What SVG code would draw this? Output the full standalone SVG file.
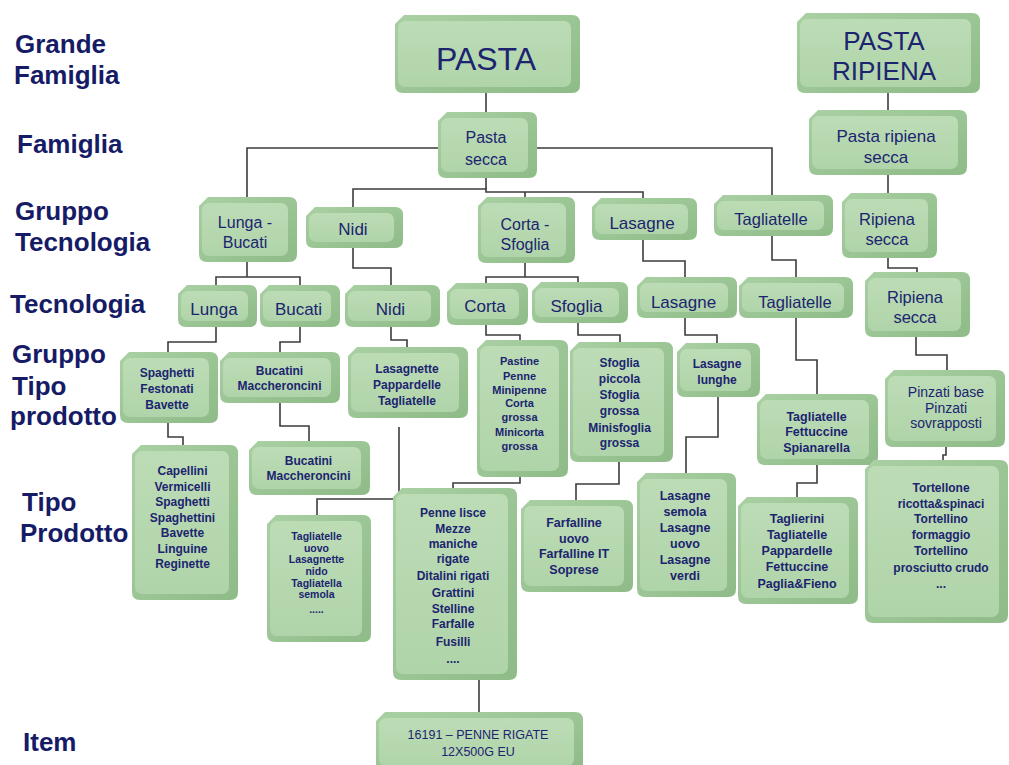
<svg xmlns="http://www.w3.org/2000/svg" width="1009" height="765" viewBox="0 0 1009 765">
  <defs>
    <linearGradient id="rim" x1="0" y1="0" x2="1" y2="1">
      <stop offset="0" stop-color="#a9d0a3"/>
      <stop offset="1" stop-color="#8ebb87"/>
    </linearGradient>
    <linearGradient id="face" x1="0" y1="0" x2="0" y2="1">
      <stop offset="0" stop-color="#bcdcb6"/>
      <stop offset="1" stop-color="#b0d4a9"/>
    </linearGradient>
  </defs>
  <style>
    .rim { fill: url(#rim); }
    .face { fill: url(#face); }
    .lvl { font-family: "Liberation Sans", Arial, sans-serif; font-weight: bold; font-size: 26px; fill: #161b66; }
    .t { font-family: "Liberation Sans", Arial, sans-serif; fill: #1c2470; text-anchor: middle; }
    .b { font-weight: bold; }
    .wire { fill: none; stroke: #3c3c3c; stroke-width: 1.6; }
  </style>
  <rect width="1009" height="765" fill="#ffffff"/>

  <!-- level labels -->
  <g id="levels">
    <text class="lvl" x="15" y="53">Grande</text>
    <text class="lvl" x="14" y="84">Famiglia</text>
    <text class="lvl" x="17" y="153">Famiglia</text>
    <text class="lvl" x="15" y="220">Gruppo</text>
    <text class="lvl" x="15" y="251">Tecnologia</text>
    <text class="lvl" x="10" y="313">Tecnologia</text>
    <text class="lvl" x="12" y="363">Gruppo</text>
    <text class="lvl" x="12" y="395">Tipo</text>
    <text class="lvl" x="10" y="425">prodotto</text>
    <text class="lvl" x="22" y="511">Tipo</text>
    <text class="lvl" x="20" y="542">Prodotto</text>
    <text class="lvl" x="23" y="751">Item</text>
  </g>

  <!-- connectors -->
  <g id="connectors" class="wire">
    <path d="M486,93 V112"/>
    <path d="M888,93 V110"/>
    <path d="M888,175 V193"/>
    <path d="M247,197 V148 H772 V195"/>
    <path d="M486,178 V189"/>
    <path d="M353,207 V189 H486 V192 H643 V198"/>
    <path d="M525,192 V197"/>
    <path d="M247,262 V277"/>
    <path d="M216,285 V277 H300 V285"/>
    <path d="M353,248 V268 H391 V285"/>
    <path d="M525,263 V277"/>
    <path d="M486,283 V277 H578 V282"/>
    <path d="M643,240 V261 H685 V277"/>
    <path d="M772,236 V260 H796 V277"/>
    <path d="M888,258 V268 H917 V272"/>
    <path d="M216,327 V342 H168 V352"/>
    <path d="M300,327 V342 H280 V352"/>
    <path d="M391,327 V340 H407 V347"/>
    <path d="M486,325 V335 H520 V340"/>
    <path d="M578,323 V335 H620 V342"/>
    <path d="M685,318 V335 H717 V343"/>
    <path d="M796,318 V360 H817 V394"/>
    <path d="M916,337 V355 H947 V370"/>
    <path d="M168,423 V437 H183 V445"/>
    <path d="M280,403 V426 H309 V441"/>
    <path d="M399,427 V499 H317 V515"/>
    <path d="M520,477 V483 H453 V488"/>
    <path d="M619,462 V484 H576 V500"/>
    <path d="M718,397 V437 H686 V473"/>
    <path d="M817,465 V483 H797 V497"/>
    <path d="M946,447 V455 H943 V460"/>
    <path d="M479,680 V712"/>
  </g>

  <!-- Grande Famiglia -->
  <g id="pasta" transform="translate(395,15)">
    <path class="rim" d="M0,9 L9,0 H177 Q185,0 185,8 V70 Q185,78 177,78 H8 Q0,78 0,70 Z"/>
    <rect class="face" x="3" y="6" width="173" height="66" rx="7"/>
    <text class="t" x="91" y="55" font-size="32">PASTA</text>
  </g>
  <g id="pasta-ripiena" transform="translate(797,13)">
    <path class="rim" d="M0,9 L9,0 H175 Q183,0 183,8 V72 Q183,80 175,80 H8 Q0,80 0,72 Z"/>
    <rect class="face" x="3" y="6" width="171" height="68" rx="7"/>
    <text class="t" x="87" y="37" font-size="26">PASTA</text>
    <text class="t" x="87" y="67" font-size="26">RIPIENA</text>
  </g>

  <!-- Famiglia -->
  <g id="pasta-secca" transform="translate(438,112)">
    <path class="rim" d="M0,9 L9,0 H91 Q99,0 99,8 V58 Q99,66 91,66 H8 Q0,66 0,58 Z"/>
    <rect class="face" x="3" y="6" width="87" height="54" rx="7"/>
    <text class="t" x="48" y="31" font-size="16">Pasta</text>
    <text class="t" x="48" y="53" font-size="16">secca</text>
  </g>
  <g id="pasta-ripiena-secca" transform="translate(809,110)">
    <path class="rim" d="M0,9 L9,0 H150 Q158,0 158,8 V57 Q158,65 150,65 H8 Q0,65 0,57 Z"/>
    <rect class="face" x="3" y="6" width="146" height="53" rx="7"/>
    <text class="t" x="77" y="32" font-size="17">Pasta ripiena</text>
    <text class="t" x="77" y="53" font-size="17">secca</text>
  </g>

  <!-- Gruppo Tecnologia -->
  <g id="gt-lunga-bucati" transform="translate(199,197)">
    <path class="rim" d="M0,9 L9,0 H90 Q98,0 98,8 V57 Q98,65 90,65 H8 Q0,65 0,57 Z"/>
    <rect class="face" x="3" y="6" width="86" height="53" rx="7"/>
    <text class="t" x="46" y="31" font-size="16">Lunga -</text>
    <text class="t" x="46" y="51" font-size="16">Bucati</text>
  </g>
  <g id="gt-nidi" transform="translate(306,207)">
    <path class="rim" d="M0,9 L9,0 H89 Q97,0 97,8 V33 Q97,41 89,41 H8 Q0,41 0,33 Z"/>
    <rect class="face" x="3" y="6" width="85" height="29" rx="7"/>
    <text class="t" x="47" y="28" font-size="17">Nidi</text>
  </g>
  <g id="gt-corta-sfoglia" transform="translate(478,197)">
    <path class="rim" d="M0,9 L9,0 H89 Q97,0 97,8 V58 Q97,66 89,66 H8 Q0,66 0,58 Z"/>
    <rect class="face" x="3" y="6" width="85" height="54" rx="7"/>
    <text class="t" x="47" y="33" font-size="16">Corta -</text>
    <text class="t" x="47" y="53" font-size="16">Sfoglia</text>
  </g>
  <g id="gt-lasagne" transform="translate(592,198)">
    <path class="rim" d="M0,9 L9,0 H97 Q105,0 105,8 V34 Q105,42 97,42 H8 Q0,42 0,34 Z"/>
    <rect class="face" x="3" y="6" width="93" height="30" rx="7"/>
    <text class="t" x="50" y="31" font-size="17">Lasagne</text>
  </g>
  <g id="gt-tagliatelle" transform="translate(714,195)">
    <path class="rim" d="M0,9 L9,0 H111 Q119,0 119,8 V33 Q119,41 111,41 H8 Q0,41 0,33 Z"/>
    <rect class="face" x="3" y="6" width="107" height="29" rx="7"/>
    <text class="t" x="57" y="30" font-size="16.5">Tagliatelle</text>
  </g>
  <g id="gt-ripiena-secca" transform="translate(842,193)">
    <path class="rim" d="M0,9 L9,0 H87 Q95,0 95,8 V57 Q95,65 87,65 H8 Q0,65 0,57 Z"/>
    <rect class="face" x="3" y="6" width="83" height="53" rx="7"/>
    <text class="t" x="45" y="32" font-size="16.5">Ripiena</text>
    <text class="t" x="45" y="52" font-size="16.5">secca</text>
  </g>

  <!-- Tecnologia -->
  <g id="t-lunga" transform="translate(178,285)">
    <path class="rim" d="M0,9 L9,0 H71 Q79,0 79,8 V34 Q79,42 71,42 H8 Q0,42 0,34 Z"/>
    <rect class="face" x="3" y="6" width="67" height="30" rx="7"/>
    <text class="t" x="36" y="30" font-size="17">Lunga</text>
  </g>
  <g id="t-bucati" transform="translate(260,285)">
    <path class="rim" d="M0,9 L9,0 H72 Q80,0 80,8 V34 Q80,42 72,42 H8 Q0,42 0,34 Z"/>
    <rect class="face" x="3" y="6" width="68" height="30" rx="7"/>
    <text class="t" x="38.5" y="30" font-size="17">Bucati</text>
  </g>
  <g id="t-nidi" transform="translate(345,285)">
    <path class="rim" d="M0,9 L9,0 H87 Q95,0 95,8 V34 Q95,42 87,42 H8 Q0,42 0,34 Z"/>
    <rect class="face" x="3" y="6" width="83" height="30" rx="7"/>
    <text class="t" x="45.5" y="30" font-size="17">Nidi</text>
  </g>
  <g id="t-corta" transform="translate(447,283)">
    <path class="rim" d="M0,9 L9,0 H73 Q81,0 81,8 V34 Q81,42 73,42 H8 Q0,42 0,34 Z"/>
    <rect class="face" x="3" y="6" width="69" height="30" rx="7"/>
    <text class="t" x="38" y="29" font-size="17">Corta</text>
  </g>
  <g id="t-sfoglia" transform="translate(532,282)">
    <path class="rim" d="M0,9 L9,0 H88 Q96,0 96,8 V33 Q96,41 88,41 H8 Q0,41 0,33 Z"/>
    <rect class="face" x="3" y="6" width="84" height="29" rx="7"/>
    <text class="t" x="44.5" y="30" font-size="17">Sfoglia</text>
  </g>
  <g id="t-lasagne" transform="translate(637,277)">
    <path class="rim" d="M0,9 L9,0 H92 Q100,0 100,8 V33 Q100,41 92,41 H8 Q0,41 0,33 Z"/>
    <rect class="face" x="3" y="6" width="88" height="29" rx="7"/>
    <text class="t" x="46.5" y="31" font-size="17">Lasagne</text>
  </g>
  <g id="t-tagliatelle" transform="translate(739,277)">
    <path class="rim" d="M0,9 L9,0 H106 Q114,0 114,8 V33 Q114,41 106,41 H8 Q0,41 0,33 Z"/>
    <rect class="face" x="3" y="6" width="102" height="29" rx="7"/>
    <text class="t" x="56" y="31" font-size="16.5">Tagliatelle</text>
  </g>
  <g id="t-ripiena-secca" transform="translate(865,272)">
    <path class="rim" d="M0,9 L9,0 H97 Q105,0 105,8 V57 Q105,65 97,65 H8 Q0,65 0,57 Z"/>
    <rect class="face" x="3" y="6" width="93" height="53" rx="7"/>
    <text class="t" x="50" y="31" font-size="16.5">Ripiena</text>
    <text class="t" x="50" y="51" font-size="16.5">secca</text>
  </g>

  <!-- Gruppo Tipo prodotto -->
  <g id="gtp-spaghetti" transform="translate(120,352)">
    <path class="rim" d="M0,9 L9,0 H90 Q98,0 98,8 V63 Q98,71 90,71 H8 Q0,71 0,63 Z"/>
    <rect class="face" x="3" y="6" width="86" height="59" rx="7"/>
    <text class="t b" font-size="12"><tspan x="47" y="25">Spaghetti</tspan><tspan x="47" y="41">Festonati</tspan><tspan x="47" y="57">Bavette</tspan></text>
  </g>
  <g id="gtp-bucatini" transform="translate(220,352)">
    <path class="rim" d="M0,9 L9,0 H112 Q120,0 120,8 V43 Q120,51 112,51 H8 Q0,51 0,43 Z"/>
    <rect class="face" x="3" y="6" width="108" height="39" rx="7"/>
    <text class="t b" font-size="12"><tspan x="59.5" y="23">Bucatini</tspan><tspan x="59.5" y="38">Maccheroncini</tspan></text>
  </g>
  <g id="gtp-lasagnette" transform="translate(348,347)">
    <path class="rim" d="M0,9 L9,0 H112 Q120,0 120,8 V63 Q120,71 112,71 H8 Q0,71 0,63 Z"/>
    <rect class="face" x="3" y="6" width="108" height="59" rx="7"/>
    <text class="t b" font-size="12"><tspan x="59" y="26">Lasagnette</tspan><tspan x="59" y="42">Pappardelle</tspan><tspan x="59" y="58">Tagliatelle</tspan></text>
  </g>
  <g id="gtp-pastine" transform="translate(477,340)">
    <path class="rim" d="M0,9 L9,0 H83 Q91,0 91,8 V129 Q91,137 83,137 H8 Q0,137 0,129 Z"/>
    <rect class="face" x="3" y="6" width="79" height="125" rx="7"/>
    <text class="t b" font-size="11"><tspan x="42.5" y="25">Pastine</tspan><tspan x="42.5" y="40">Penne</tspan><tspan x="42.5" y="54">Minipenne</tspan><tspan x="42.5" y="67">Corta</tspan><tspan x="42.5" y="81">grossa</tspan><tspan x="42.5" y="96">Minicorta</tspan><tspan x="42.5" y="110">grossa</tspan></text>
  </g>
  <g id="gtp-sfoglia" transform="translate(570,342)">
    <path class="rim" d="M0,9 L9,0 H95 Q103,0 103,8 V112 Q103,120 95,120 H8 Q0,120 0,112 Z"/>
    <rect class="face" x="3" y="6" width="91" height="108" rx="7"/>
    <text class="t b" font-size="12"><tspan x="49.5" y="25">Sfoglia</tspan><tspan x="49.5" y="41">piccola</tspan><tspan x="49.5" y="57">Sfoglia</tspan><tspan x="49.5" y="73">grossa</tspan><tspan x="49.5" y="90">Minisfoglia</tspan><tspan x="49.5" y="105">grossa</tspan></text>
  </g>
  <g id="gtp-lasagne" transform="translate(677,343)">
    <path class="rim" d="M0,9 L9,0 H75 Q83,0 83,8 V46 Q83,54 75,54 H8 Q0,54 0,46 Z"/>
    <rect class="face" x="3" y="6" width="71" height="42" rx="7"/>
    <text class="t b" font-size="12"><tspan x="40" y="25">Lasagne</tspan><tspan x="40" y="41">lunghe</tspan></text>
  </g>
  <g id="gtp-tagliatelle" transform="translate(757,394)">
    <path class="rim" d="M0,9 L9,0 H113 Q121,0 121,8 V63 Q121,71 113,71 H8 Q0,71 0,63 Z"/>
    <rect class="face" x="3" y="6" width="109" height="59" rx="7"/>
    <text class="t b" font-size="12.5"><tspan x="59.5" y="27">Tagliatelle</tspan><tspan x="59.5" y="42">Fettuccine</tspan><tspan x="59.5" y="58">Spianarella</tspan></text>
  </g>
  <g id="gtp-pinzati" transform="translate(885,370)">
    <path class="rim" d="M0,9 L9,0 H112 Q120,0 120,8 V69 Q120,77 112,77 H8 Q0,77 0,69 Z"/>
    <rect class="face" x="3" y="6" width="108" height="65" rx="7"/>
    <text class="t" font-size="14"><tspan x="61" y="27">Pinzati base</tspan><tspan x="61" y="43">Pinzati</tspan><tspan x="61" y="58">sovrapposti</tspan></text>
  </g>

  <!-- Tipo Prodotto -->
  <g id="tp-capellini" transform="translate(132,445)">
    <path class="rim" d="M0,9 L9,0 H98 Q106,0 106,8 V147 Q106,155 98,155 H8 Q0,155 0,147 Z"/>
    <rect class="face" x="3" y="6" width="94" height="143" rx="7"/>
    <text class="t b" font-size="12"><tspan x="50.5" y="30">Capellini</tspan><tspan x="50.5" y="45.5">Vermicelli</tspan><tspan x="50.5" y="61">Spaghetti</tspan><tspan x="50.5" y="76.5">Spaghettini</tspan><tspan x="50.5" y="92">Bavette</tspan><tspan x="50.5" y="107.5">Linguine</tspan><tspan x="50.5" y="123">Reginette</tspan></text>
  </g>
  <g id="tp-bucatini" transform="translate(249,441)">
    <path class="rim" d="M0,9 L9,0 H113 Q121,0 121,8 V46 Q121,54 113,54 H8 Q0,54 0,46 Z"/>
    <rect class="face" x="3" y="6" width="109" height="42" rx="7"/>
    <text class="t b" font-size="12"><tspan x="59.5" y="24">Bucatini</tspan><tspan x="59.5" y="39">Maccheroncini</tspan></text>
  </g>
  <g id="tp-tagliatelle-uovo" transform="translate(267,515)">
    <path class="rim" d="M0,9 L9,0 H96 Q104,0 104,8 V119 Q104,127 96,127 H8 Q0,127 0,119 Z"/>
    <rect class="face" x="3" y="6" width="92" height="115" rx="7"/>
    <text class="t b" font-size="10.5"><tspan x="49.5" y="25">Tagliatelle</tspan><tspan x="49.5" y="37">uovo</tspan><tspan x="49.5" y="48">Lasagnette</tspan><tspan x="49.5" y="60">nido</tspan><tspan x="49.5" y="72">Tagliatella</tspan><tspan x="49.5" y="83">semola</tspan><tspan x="49.5" y="98">.....</tspan></text>
  </g>
  <g id="tp-penne" transform="translate(393,488)">
    <path class="rim" d="M0,9 L9,0 H116 Q124,0 124,8 V184 Q124,192 116,192 H8 Q0,192 0,184 Z"/>
    <rect class="face" x="3" y="6" width="112" height="180" rx="7"/>
    <text class="t b" font-size="12"><tspan x="60" y="29">Penne lisce</tspan><tspan x="60" y="45">Mezze</tspan><tspan x="60" y="60">maniche</tspan><tspan x="60" y="75">rigate</tspan><tspan x="60" y="92">Ditalini rigati</tspan><tspan x="60" y="109">Grattini</tspan><tspan x="60" y="125">Stelline</tspan><tspan x="60" y="140">Farfalle</tspan><tspan x="60" y="158">Fusilli</tspan><tspan x="60" y="175">....</tspan></text>
  </g>
  <g id="tp-farfalline" transform="translate(521,500)">
    <path class="rim" d="M0,9 L9,0 H104 Q112,0 112,8 V84 Q112,92 104,92 H8 Q0,92 0,84 Z"/>
    <rect class="face" x="3" y="6" width="100" height="80" rx="7"/>
    <text class="t b" font-size="12.5"><tspan x="53" y="27">Farfalline</tspan><tspan x="53" y="43">uovo</tspan><tspan x="53" y="58">Farfalline IT</tspan><tspan x="53" y="74">Soprese</tspan></text>
  </g>
  <g id="tp-lasagne" transform="translate(637,473)">
    <path class="rim" d="M0,9 L9,0 H91 Q99,0 99,8 V116 Q99,124 91,124 H8 Q0,124 0,116 Z"/>
    <rect class="face" x="3" y="6" width="87" height="112" rx="7"/>
    <text class="t b" font-size="12.5"><tspan x="48" y="27">Lasagne</tspan><tspan x="48" y="43">semola</tspan><tspan x="48" y="59">Lasagne</tspan><tspan x="48" y="75">uovo</tspan><tspan x="48" y="91">Lasagne</tspan><tspan x="48" y="107">verdi</tspan></text>
  </g>
  <g id="tp-taglierini" transform="translate(738,497)">
    <path class="rim" d="M0,9 L9,0 H112 Q120,0 120,8 V99 Q120,107 112,107 H8 Q0,107 0,99 Z"/>
    <rect class="face" x="3" y="6" width="108" height="95" rx="7"/>
    <text class="t b" font-size="12.5"><tspan x="59" y="26">Taglierini</tspan><tspan x="59" y="42">Tagliatelle</tspan><tspan x="59" y="58">Pappardelle</tspan><tspan x="59" y="74">Fettuccine</tspan><tspan x="59" y="91">Paglia&amp;Fieno</tspan></text>
  </g>
  <g id="tp-tortellone" transform="translate(865,460)">
    <path class="rim" d="M0,9 L9,0 H135 Q143,0 143,8 V155 Q143,163 135,163 H8 Q0,163 0,155 Z"/>
    <rect class="face" x="3" y="6" width="131" height="151" rx="7"/>
    <text class="t b" font-size="12"><tspan x="76" y="32">Tortellone</tspan><tspan x="76" y="48">ricotta&amp;spinaci</tspan><tspan x="76" y="63">Tortellino</tspan><tspan x="76" y="79">formaggio</tspan><tspan x="76" y="95">Tortellino</tspan><tspan x="76" y="112">prosciutto crudo</tspan><tspan x="76" y="128">...</tspan></text>
  </g>

  <!-- Item -->
  <g id="item" transform="translate(376,712)">
    <path class="rim" d="M0,9 L9,0 H199 Q207,0 207,8 V52 Q207,60 199,60 H8 Q0,60 0,52 Z"/>
    <rect class="face" x="3" y="6" width="195" height="48" rx="7"/>
    <text class="t" font-size="12.5"><tspan x="102" y="27">16191 – PENNE RIGATE</tspan><tspan x="102" y="44">12X500G EU</tspan></text>
  </g>
</svg>
